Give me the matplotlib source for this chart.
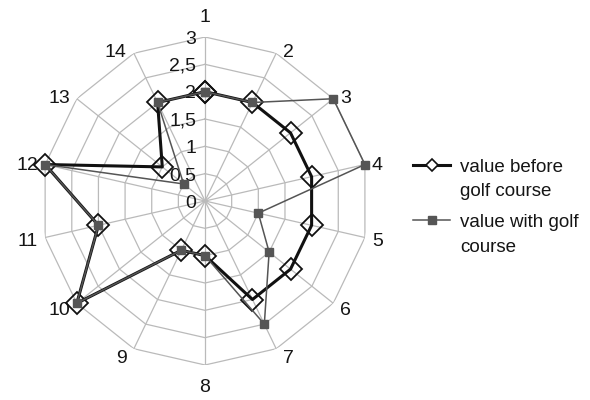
import numpy as np
import matplotlib
matplotlib.use("Agg")
import matplotlib.pyplot as plt
from matplotlib.lines import Line2D

# axes 1..14 of the radar chart
categories = ['1', '2', '3', '4', '5', '6', '7', '8', '9', '10', '11', '12', '13', '14']
before_golf = [2, 2, 2, 2, 2, 2, 2, 1, 1, 3, 2, 3, 1, 2]
with_golf = [2, 2, 3, 3, 1, 1.5, 2.5, 1, 1, 3, 2, 3, 0.5, 2]
ring_values = [0, 0.5, 1, 1.5, 2, 2.5, 3]
ring_labels = ['0', '0,5', '1', '1,5', '2', '2,5', '3']
series_names = ['value before\ngolf course', 'value with golf\ncourse']

plt.rcParams['font.family'] = ['Liberation Sans', 'DejaVu Sans']

fig = plt.figure(figsize=(5.9, 4.0), dpi=100)
ax = fig.add_axes([0.0695, 0.0875, 0.556, 0.82], projection='polar')
ax.set_theta_zero_location('N')
ax.set_theta_direction(-1)
ax.set_ylim(0, 3)
ax.grid(False)
ax.set_xticks([])
ax.set_yticks([])
ax.spines['polar'].set_visible(False)
ax.patch.set_visible(False)

n = len(categories)
angles = np.arange(n) * 2 * np.pi / n
closed = np.append(angles, angles[0])

grid_col = '#bababa'
# polygon rings
for r in ring_values[1:]:
    ax.plot(closed, [r] * (n + 1), color=grid_col, lw=0.9, zorder=1)
# spokes
for a in angles:
    ax.plot([a, a], [0, 3], color=grid_col, lw=0.9, zorder=1)

txt_col = '#151515'
fs = 14
px = 0.72  # points per pixel at dpi 100
# ring labels along axis 1
for r, lbl in zip(ring_values, ring_labels):
    ax.annotate(lbl, xy=(0, r), xytext=(-9 * px, 0), textcoords='offset points',
                ha='right', va='center_baseline', fontsize=fs, color=txt_col)

# category labels, placed beside the outer vertex like Excel does
rmax = ring_values[-1]
for a, lbl in zip(angles, categories):
    s, c = np.sin(a), np.cos(a)
    if abs(s) < 0.01:
        ha, dx, dy = 'center', 0, 21 * c
    else:
        ha = 'left' if s > 0 else 'right'
        dx = 7 * np.sign(s)
        dy = c * (3 if c > 0 else 9)
    ax.annotate(lbl, xy=(a, rmax), xytext=(dx * px, dy * px), textcoords='offset points',
                ha=ha, va='center_baseline', fontsize=fs, color=txt_col)

# data series
b = np.append(before_golf, before_golf[0])
w = np.append(with_golf, with_golf[0])
ax.plot(closed, b, color='#111111', lw=2.2, marker='D', ms=11, mfc='none',
        mec='#111111', mew=1.3, zorder=3, clip_on=False)
ax.plot(closed, w, color='#555555', lw=1.1, marker='s', ms=5.5, mfc='#555555',
        mec='#555555', zorder=4, clip_on=False)

# legend, drawn by hand so the key sits on the first text line
x0, x1, xt = 413 / 590, 450 / 590, 460 / 590
keys = [
    (165, dict(color='#111111', lw=2.2), dict(marker='D', ms=6.5, mfc='white', mec='#111111', mew=1.2)),
    (220, dict(color='#555555', lw=1.1), dict(marker='s', ms=5.5, mfc='#555555', mec='#555555')),
]
for name, (yk, line_style, mark_style) in zip(series_names, keys):
    yy = 1 - yk / 400
    fig.add_artist(Line2D([x0, x1], [yy, yy], transform=fig.transFigure, **line_style))
    fig.add_artist(Line2D([(x0 + x1) / 2], [yy], transform=fig.transFigure, ls='none', **mark_style))
    for i, ln in enumerate(name.split('\n')):
        fig.text(xt, yy - i * 25 / 400, ln, ha='left', va='center_baseline',
                 fontsize=fs - 0.5, color=txt_col)

fig.savefig('out.png', dpi=100)
